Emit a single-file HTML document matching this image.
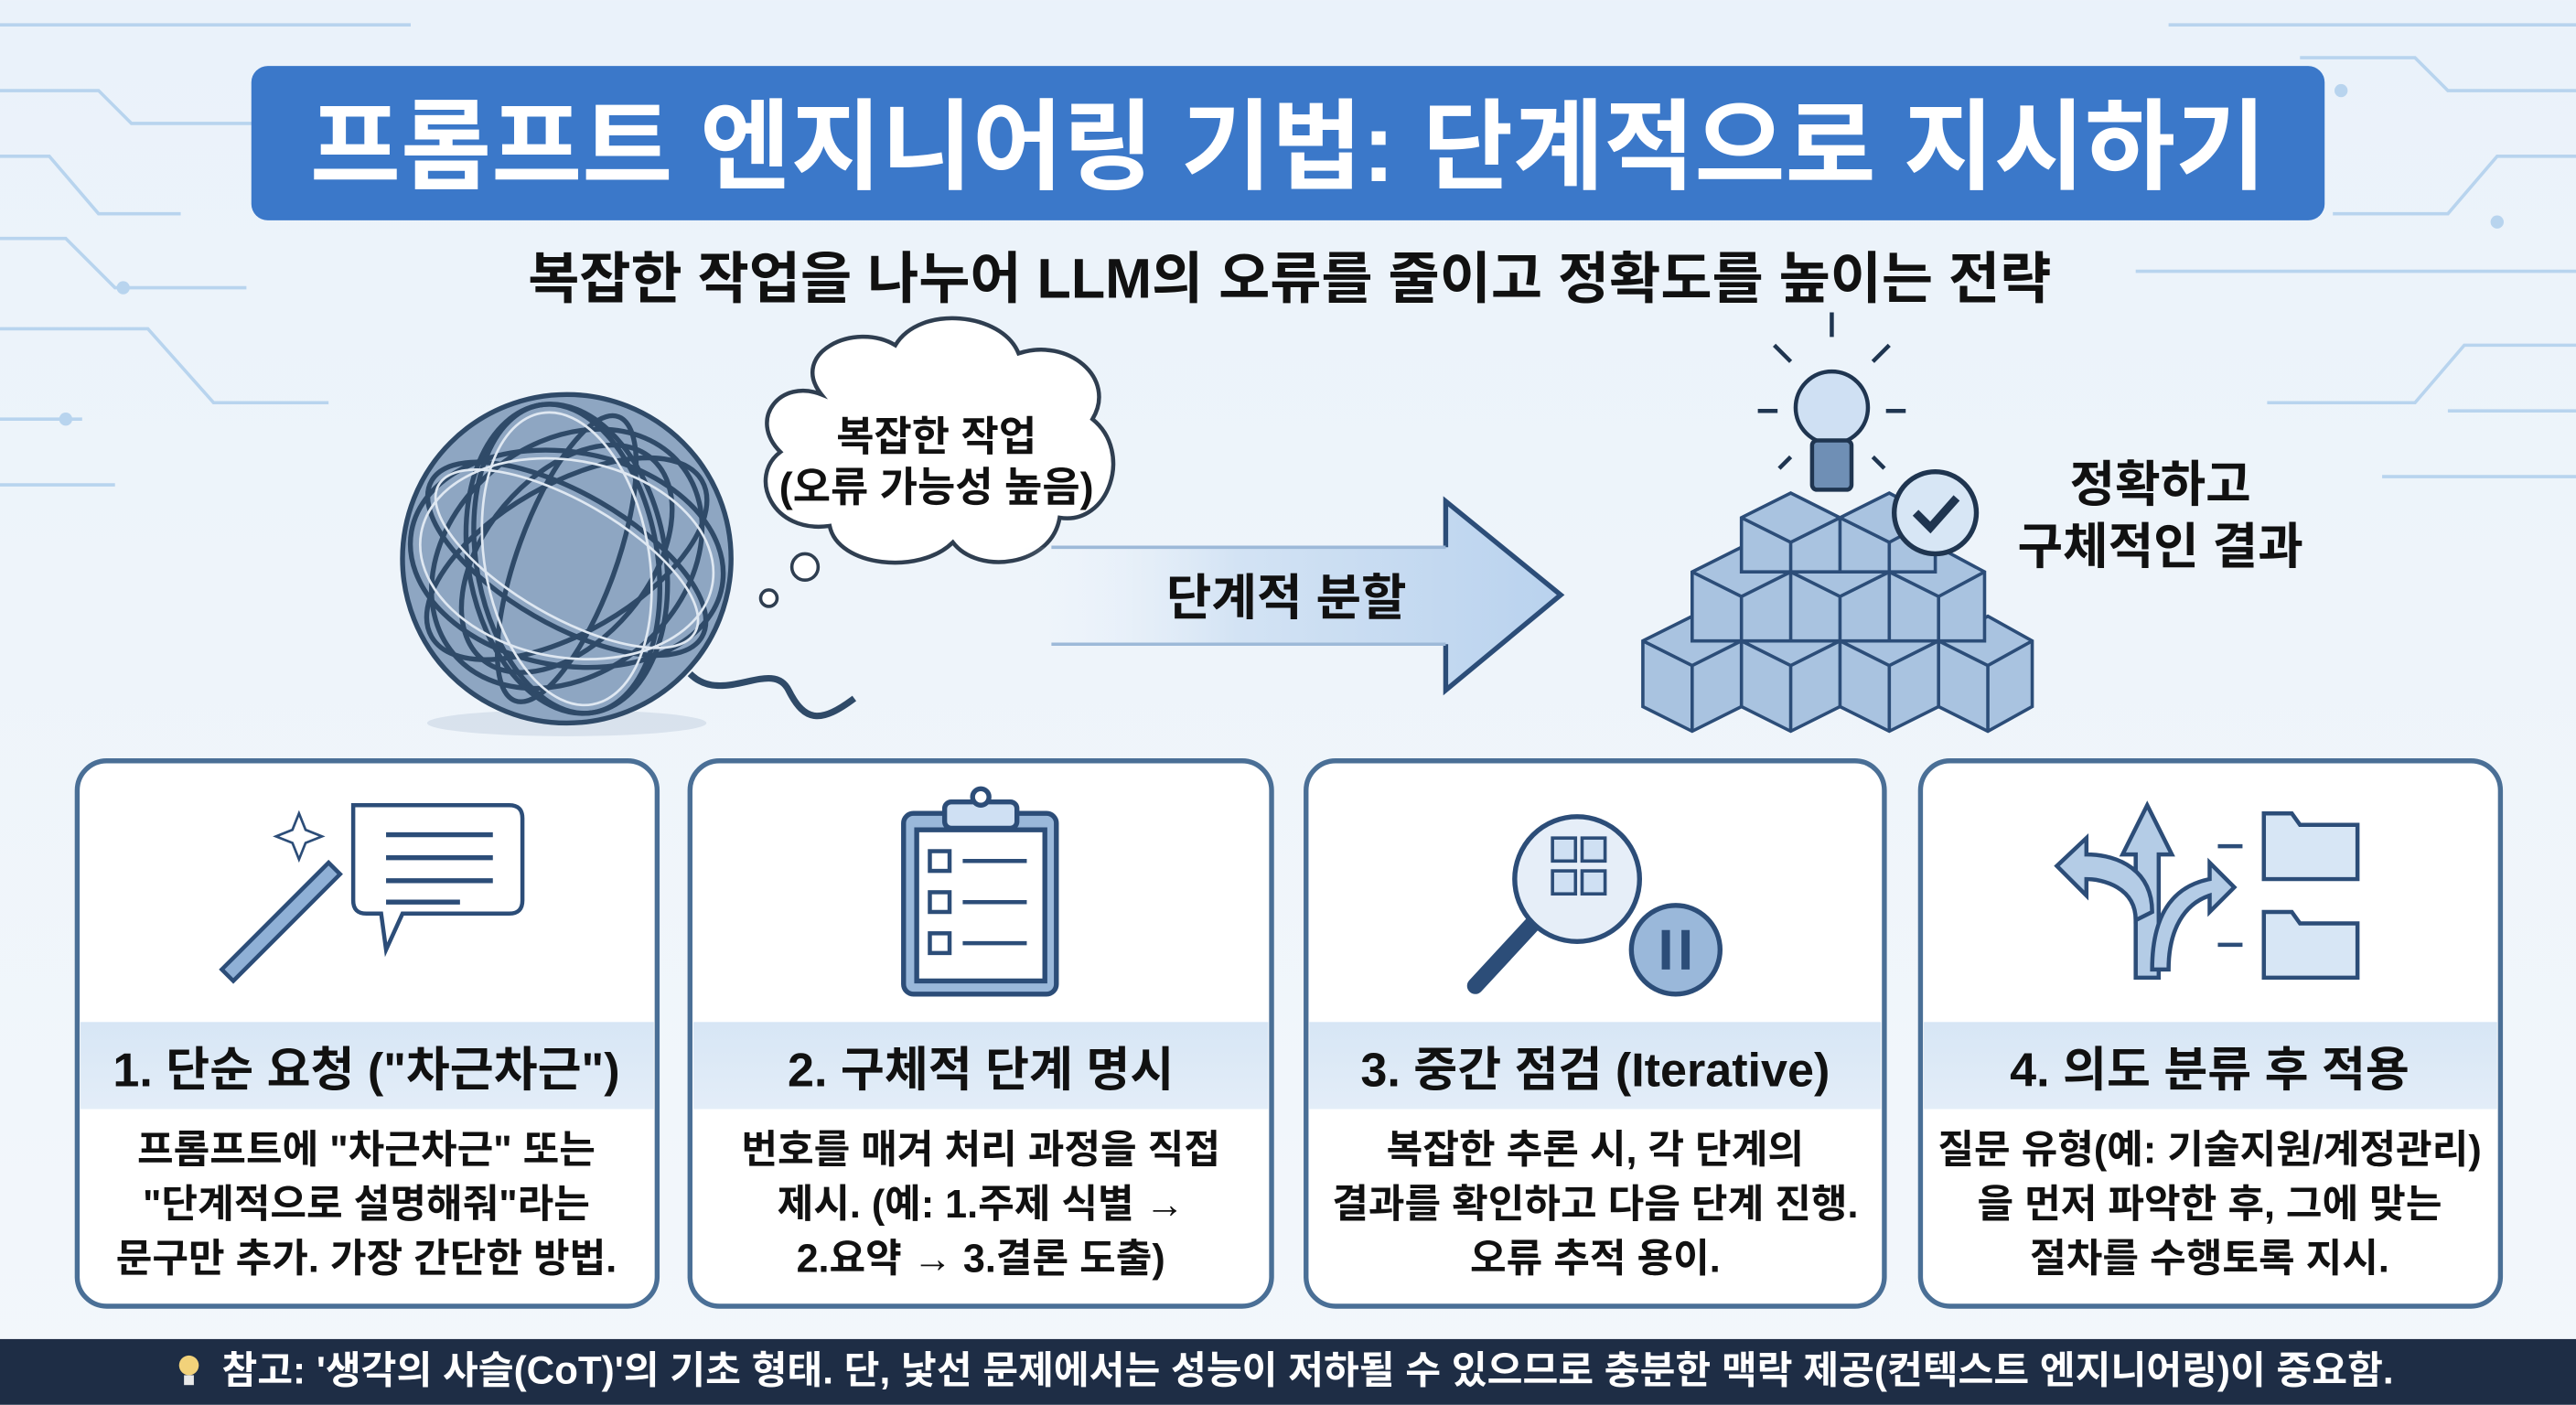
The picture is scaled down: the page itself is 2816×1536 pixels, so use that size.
<!DOCTYPE html>
<html><head><meta charset="utf-8"><style>
html,body{margin:0;padding:0;width:2816px;height:1536px;overflow:hidden;background:#eef4fa}
svg{display:block}
text{font-family:"Liberation Sans","Noto Sans CJK KR",sans-serif;font-weight:bold}
</style></head><body>
<svg width="2816" height="1536" viewBox="0 0 1568 855" xmlns="http://www.w3.org/2000/svg">
<defs>
<linearGradient id="bg" x1="0" y1="0" x2="0" y2="1"><stop offset="0" stop-color="#eaf2fa"/><stop offset="1" stop-color="#f3f7fb"/></linearGradient>
<linearGradient id="arr" x1="0" y1="0" x2="1" y2="0"><stop offset="0" stop-color="#eef4fb" stop-opacity="0"/><stop offset="0.4" stop-color="#d3e3f4"/><stop offset="1" stop-color="#b9d2ee"/></linearGradient>
<linearGradient id="hd" x1="0" y1="0" x2="0" y2="1"><stop offset="0" stop-color="#d7e6f5"/><stop offset="1" stop-color="#e3edf8"/></linearGradient>
</defs>
<rect width="1568" height="855" fill="url(#bg)"/>
<g stroke="#b8d4ee" stroke-width="2" fill="none">
<path d="M0 15H250M0 55H60L80 75H170M0 95H30L60 130H110M0 145H40L70 175H150M0 200H90L130 245H200M0 255H50M0 295H70"/>
<path d="M1568 15H1320M1568 55H1490L1470 35H1400M1568 95H1520L1490 130H1420M1568 165H1300M1568 210H1500L1470 245H1380M1568 250H1490M1568 290H1450"/>
</g>
<g fill="#b8d4ee"><circle cx="75" cy="175" r="4"/><circle cx="40" cy="255" r="4"/><circle cx="1425" cy="55" r="4"/><circle cx="1520" cy="135" r="4"/></g>
<rect x="153" y="40" width="1262" height="94" rx="10" fill="#3b78c9"/>
<text x="784" y="110" text-anchor="middle" font-size="60" fill="#fff">프롬프트 엔지니어링 기법: 단계적으로 지시하기</text>
<text x="785" y="181" text-anchor="middle" font-size="34" fill="#111">복잡한 작업을 나누어 LLM의 오류를 줄이고 정확도를 높이는 전략</text>
<g>
<ellipse cx="345" cy="440" rx="85" ry="8" fill="#c9d6e4" opacity="0.6"/>
<circle cx="345" cy="340" r="100" fill="#8ea6c2" stroke="#2f4a68" stroke-width="3"/>
<g fill="none" stroke="#2f4a68" stroke-width="3">
<ellipse cx="345" cy="340" rx="95" ry="40" transform="rotate(30 345 340)"/>
<ellipse cx="345" cy="340" rx="95" ry="45" transform="rotate(-30 345 340)"/>
<ellipse cx="345" cy="340" rx="95" ry="55" transform="rotate(80 345 340)"/>
<ellipse cx="345" cy="340" rx="92" ry="30" transform="rotate(-70 345 340)"/>
<ellipse cx="345" cy="340" rx="96" ry="65" transform="rotate(10 345 340)"/>
<ellipse cx="345" cy="340" rx="70" ry="90" transform="rotate(50 345 340)"/>
<ellipse cx="345" cy="340" rx="80" ry="50" transform="rotate(-50 345 340)"/>
<ellipse cx="345" cy="340" rx="60" ry="95" transform="rotate(-10 345 340)"/>
<path d="M420 410C440 430 470 400 480 420S500 440 520 425" stroke-width="4"/>
</g>
<g fill="none" stroke="#dfe8f2" stroke-width="1.5">
<ellipse cx="345" cy="340" rx="90" ry="35" transform="rotate(30 345 340)"/>
<ellipse cx="345" cy="340" rx="90" ry="50" transform="rotate(80 345 340)"/>
<ellipse cx="345" cy="340" rx="90" ry="60" transform="rotate(10 345 340)"/>
</g>
</g>
<path d="M500 240C480 215 520 195 545 210C560 185 610 190 620 215C650 205 680 230 665 255C690 275 675 320 645 315C640 345 595 350 580 330C560 350 510 345 505 320C470 325 455 290 475 275C455 255 475 230 500 240Z" fill="#fff" stroke="#2f3e50" stroke-width="2.5"/>
<circle cx="490" cy="345" r="8" fill="#fff" stroke="#2f3e50" stroke-width="2"/>
<circle cx="468" cy="364" r="5" fill="#fff" stroke="#2f3e50" stroke-width="2"/>
<text x="570" y="274" text-anchor="middle" font-size="25" fill="#111">복잡한 작업</text>
<text x="570" y="305" text-anchor="middle" font-size="25" fill="#111">(오류 가능성 높음)</text>
<path d="M620 333H880V305L950 362L880 420V392H620Z" fill="url(#arr)"/>
<path d="M880 333V305L950 362L880 420V392" fill="none" stroke="#2c4d78" stroke-width="3"/>
<path d="M640 333H880M640 392H880" stroke="#9db9d8" stroke-width="2"/>
<text x="783" y="374" text-anchor="middle" font-size="30" fill="#111">단계적 분할</text>
<g stroke="#2c4d78" stroke-width="2">
<path d="M1000 390L1030 375L1060 390L1090 375L1120 390L1150 375L1180 390L1210 375L1237 390V430L1210 445L1180 430L1150 445L1120 430L1090 445L1060 430L1030 445L1000 430Z" fill="#a9c3e0"/>
<path d="M1030 348L1060 333L1090 348L1120 333L1150 348L1180 333L1208 348V390L1030 390Z" fill="#a9c3e0"/>
<path d="M1060 315L1090 300L1120 315L1150 300L1178 315V348L1060 348Z" fill="#a9c3e0"/>
<path d="M1000 390L1030 405L1060 390L1090 405L1120 390L1150 405L1180 390L1210 405L1237 390M1030 405V445M1090 405V445M1150 405V445M1210 405V445M1060 390V430M1120 390V430M1180 390V430" fill="none"/>
<path d="M1030 348L1060 363L1090 348L1120 363L1150 348L1180 363L1208 348M1060 363V390M1120 363V390M1180 363V390M1090 348V390M1150 348V390" fill="none"/>
<path d="M1060 315L1090 330L1120 315L1150 330L1178 315M1090 330V348M1150 330V348M1120 315V348" fill="none"/>
</g>
<g stroke="#1f3550" stroke-width="2.5">
<circle cx="1115" cy="248" r="22" fill="#cfe0f3"/>
<rect x="1103" y="268" width="24" height="30" rx="3" fill="#6f8fb5"/>
<path d="M1115 190V205M1080 210L1090 220M1150 210L1140 220M1070 250H1082M1148 250H1160M1083 285L1090 278M1147 285L1140 278" fill="none"/>
</g>
<circle cx="1178" cy="312" r="25" fill="#d7e6f5" stroke="#1f3550" stroke-width="3"/>
<path d="M1166 312L1175 321L1191 303" fill="none" stroke="#1f3550" stroke-width="5"/>
<text x="1315" y="305" text-anchor="middle" font-size="30" fill="#111">정확하고</text>
<text x="1315" y="343" text-anchor="middle" font-size="30" fill="#111">구체적인 결과</text>
<g stroke="#4a6f96" stroke-width="3">
<rect x="47" y="463" width="353" height="332" rx="18" fill="#fff"/>
<rect x="420" y="463" width="354" height="332" rx="18" fill="#fff"/>
<rect x="795" y="463" width="352" height="332" rx="18" fill="#fff"/>
<rect x="1169" y="463" width="353" height="332" rx="18" fill="#fff"/>
</g>
<g fill="url(#hd)">
<rect x="49" y="622" width="349" height="53"/><rect x="422" y="622" width="350" height="53"/>
<rect x="797" y="622" width="348" height="53"/><rect x="1171" y="622" width="349" height="53"/>
</g>
<g font-size="29" fill="#111" text-anchor="middle">
<text x="223" y="661">1. 단순 요청 ("차근차근")</text>
<text x="597" y="661">2. 구체적 단계 명시</text>
<text x="971" y="661">3. 중간 점검 (Iterative)</text>
<text x="1345" y="661">4. 의도 분류 후 적용</text>
</g>
<g font-size="24" fill="#111" text-anchor="middle" font-weight="normal">
<text x="223" y="708">프롬프트에 "차근차근" 또는</text>
<text x="223" y="741">"단계적으로 설명해줘"라는</text>
<text x="223" y="774">문구만 추가. 가장 간단한 방법.</text>
<text x="597" y="708">번호를 매겨 처리 과정을 직접</text>
<text x="597" y="741">제시. (예: 1.주제 식별 →</text>
<text x="597" y="774">2.요약 → 3.결론 도출)</text>
<text x="971" y="708">복잡한 추론 시, 각 단계의</text>
<text x="971" y="741">결과를 확인하고 다음 단계 진행.</text>
<text x="971" y="774">오류 추적 용이.</text>
<text x="1345" y="708">질문 유형(예: 기술지원/계정관리)</text>
<text x="1345" y="741">을 먼저 파악한 후, 그에 맞는</text>
<text x="1345" y="774">절차를 수행토록 지시.</text>
</g>
<g stroke="#2c4d78" stroke-width="2.5" fill="#d7e6f5">
<path d="M135 590L200 525L207 532L142 597Z" fill="#8fb0d6"/>
<path d="M215 490H310Q318 490 318 498V548Q318 556 310 556H245L235 578L232 556H223Q215 556 215 548Z" fill="#fff"/>
<path d="M235 508H300M235 522H300M235 536H300M235 549H280" stroke-width="3" fill="none"/>
<path d="M182 495L186 505L196 509L186 513L182 523L178 513L168 509L178 505Z" fill="#fff" stroke-width="1.5"/>
</g>
<g stroke="#2c4d78" stroke-width="3">
<rect x="550" y="495" width="93" height="110" rx="6" fill="#9ab8da"/>
<rect x="558" y="505" width="78" height="92" fill="#fff"/>
<rect x="575" y="488" width="44" height="16" rx="4" fill="#cfe0f3"/>
<circle cx="597" cy="485" r="5" fill="#fff"/>
<g fill="none" stroke-width="2.5"><rect x="566" y="518" width="12" height="12"/><rect x="566" y="543" width="12" height="12"/><rect x="566" y="568" width="12" height="12"/>
<path d="M586 524H625M586 549H625M586 574H625"/></g>
</g>
<g stroke="#2c4d78" stroke-width="3">
<path d="M898 600L935 560" stroke-width="10" stroke-linecap="round"/>
<circle cx="960" cy="535" r="38" fill="#e6eef8"/>
<rect x="945" y="510" width="14" height="14" fill="#cfe0f3" stroke-width="2"/><rect x="963" y="510" width="14" height="14" fill="#cfe0f3" stroke-width="2"/>
<rect x="945" y="530" width="14" height="14" fill="#cfe0f3" stroke-width="2"/><rect x="963" y="530" width="14" height="14" fill="#cfe0f3" stroke-width="2"/>
<circle cx="1020" cy="578" r="27" fill="#9ab8da"/>
<path d="M1014 566V590M1026 566V590" stroke-width="5"/>
</g>
<g stroke="#2c4d78" stroke-width="2.5" fill="#b4cce6">
<path d="M1300 595V520L1292 520L1307 490L1322 520L1314 520V595Z"/>
<path d="M1300 560C1300 540 1280 535 1270 535V545L1252 527L1270 510V520C1290 520 1310 530 1310 555Z"/>
<path d="M1310 590C1310 560 1320 540 1345 535V525L1360 540L1345 555V545C1330 550 1320 565 1320 590Z"/>
<path d="M1378 495H1395L1400 502H1435V535H1378Z" fill="#d7e6f5"/>
<path d="M1378 555H1395L1400 562H1435V595H1378Z" fill="#d7e6f5"/>
<path d="M1350 515H1365M1350 575H1365" fill="none"/>
</g>
<rect x="0" y="815" width="1568" height="40" fill="#1e2d45"/>
<circle cx="115" cy="831" r="6" fill="#f2d27a"/>
<rect x="112" y="837" width="6" height="6" fill="#e8e8e8"/>
<text x="796" y="842" text-anchor="middle" font-size="23.5" font-weight="normal" fill="#fff" textLength="1322" lengthAdjust="spacingAndGlyphs">참고: '생각의 사슬(CoT)'의 기초 형태. 단, 낯선 문제에서는 성능이 저하될 수 있으므로 충분한 맥락 제공(컨텍스트 엔지니어링)이 중요함.</text>
</svg>
</body></html>
